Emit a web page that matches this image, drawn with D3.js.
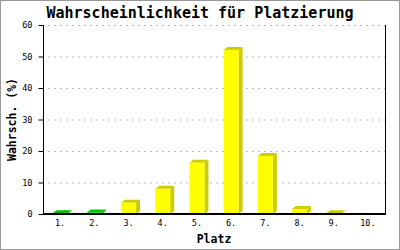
<!DOCTYPE html>
<html lang="de">
<head>
<meta charset="utf-8" />
<title>Wahrscheinlichkeit für Platzierung</title>
<script src="https://d3js.org/d3.v7.min.js"></script>
<style>
  body { margin: 0; background: #fff; }
  svg  { display: block; font-family: "DejaVu Sans Mono", "Liberation Mono", monospace; }
  .grid line { stroke: #bbb; stroke-dasharray: 2 4; }
  .tick text { font-size: 8.5px; fill: #000; }
  .title { font-size: 15px; font-weight: bold; }
  .axisLabel { font-size: 11.5px; font-weight: bold; }
</style>
</head>
<body>
<svg id="chart" width="400" height="250"></svg>
<script>
// data
const places  = ["1.", "2.", "3.", "4.", "5.", "6.", "7.", "8.", "9.", "10."];
const chances = [0.2, 0.5, 3.6, 8.0, 16.3, 52.1, 18.4, 1.6, 0.2, 0];
const greenPlaces = ["1.", "2."];
const yTicks  = [0, 10, 20, 30, 40, 50, 60];

const W = 400, H = 250;
const plotL = 43, plotR = 385, plotT = 25, plotB = 214;
const depthX = 4, depthY = 3;
const mono = "'DejaVu Sans Mono', 'Liberation Mono', monospace";

const svg = d3.select("#chart");

// frame
svg.append("rect")
  .attr("x", 0.5).attr("y", 0.5)
  .attr("width", W - 1).attr("height", H - 1)
  .attr("fill", "#fff").attr("stroke", "#999");

const x = d3.scaleBand()
  .domain(places)
  .range([plotL, plotR])
  .paddingInner(0.56)
  .paddingOuter(0.28);

const y = d3.scaleLinear()
  .domain([0, 60])
  .range([plotB, plotT]);

// dashed grid
svg.append("g").attr("class", "grid")
  .selectAll("line")
  .data(yTicks.filter(t => t > 0))
  .enter().append("line")
    .attr("x1", plotL + 5).attr("x2", plotR)
    .attr("y1", d => y(d) + 0.5).attr("y2", d => y(d) + 0.5);

// bars (fake 3d: front, side, top)
const bars = svg.append("g")
  .selectAll("g")
  .data(places.map((p, i) => ({ place: p, value: chances[i] })).filter(d => d.value > 0))
  .enter().append("g");

const front = d => greenPlaces.includes(d.place) ? "#00dd00" : "#ffff00";
const shade = d => greenPlaces.includes(d.place) ? "#00c000" : "#cccc00";

bars.append("polygon")
  .attr("fill", shade)
  .attr("points", d => {
    const x1 = x(d.place) + x.bandwidth(), y0 = y(d.value), b = y(0);
    return [[x1, b], [x1 + depthX, b - depthY], [x1 + depthX, y0 - depthY], [x1, y0]].join(" ");
  });

bars.append("polygon")
  .attr("fill", shade)
  .attr("points", d => {
    const x0 = x(d.place), x1 = x0 + x.bandwidth(), y0 = y(d.value);
    return [[x0, y0], [x0 + depthX, y0 - depthY], [x1 + depthX, y0 - depthY], [x1, y0]].join(" ");
  });

bars.append("rect")
  .attr("fill", front)
  .attr("x", d => x(d.place))
  .attr("y", d => y(d.value))
  .attr("width", x.bandwidth())
  .attr("height", d => y(0) - y(d.value) + 1);

// axes
const yAxis = svg.append("g")
  .attr("transform", `translate(${plotL + 0.5},0)`)
  .call(d3.axisLeft(y).tickValues(yTicks).tickSize(5).tickPadding(6))
  .attr("font-family", mono);
yAxis.select(".domain").attr("stroke", "#000").attr("d", `M0,${plotT}V${plotB}`);

svg.append("line")
  .attr("x1", plotR + 0.5).attr("x2", plotR + 0.5)
  .attr("y1", plotT).attr("y2", plotB)
  .attr("stroke", "#000");

svg.append("line")
  .attr("x1", plotL).attr("x2", plotR + 1)
  .attr("y1", plotB).attr("y2", plotB)
  .attr("stroke", "#000").attr("stroke-width", 2);

const xAxis = svg.append("g")
  .attr("transform", `translate(0,${plotB})`)
  .call(d3.axisBottom(x).tickSize(0).tickPadding(6))
  .attr("font-family", mono);
xAxis.select(".domain").remove();

// texts
svg.append("text").attr("class", "title")
  .attr("x", 200).attr("y", 18)
  .attr("text-anchor", "middle")
  .text("Wahrscheinlichkeit für Platzierung");

svg.append("text").attr("class", "axisLabel")
  .attr("x", (plotL + plotR) / 2).attr("y", 243)
  .attr("text-anchor", "middle")
  .text("Platz");

svg.append("text").attr("class", "axisLabel")
  .attr("transform", `translate(16,${(plotT + plotB) / 2}) rotate(-90)`)
  .attr("text-anchor", "middle")
  .text("Wahrsch. (%)");
</script>
</body>
</html>
